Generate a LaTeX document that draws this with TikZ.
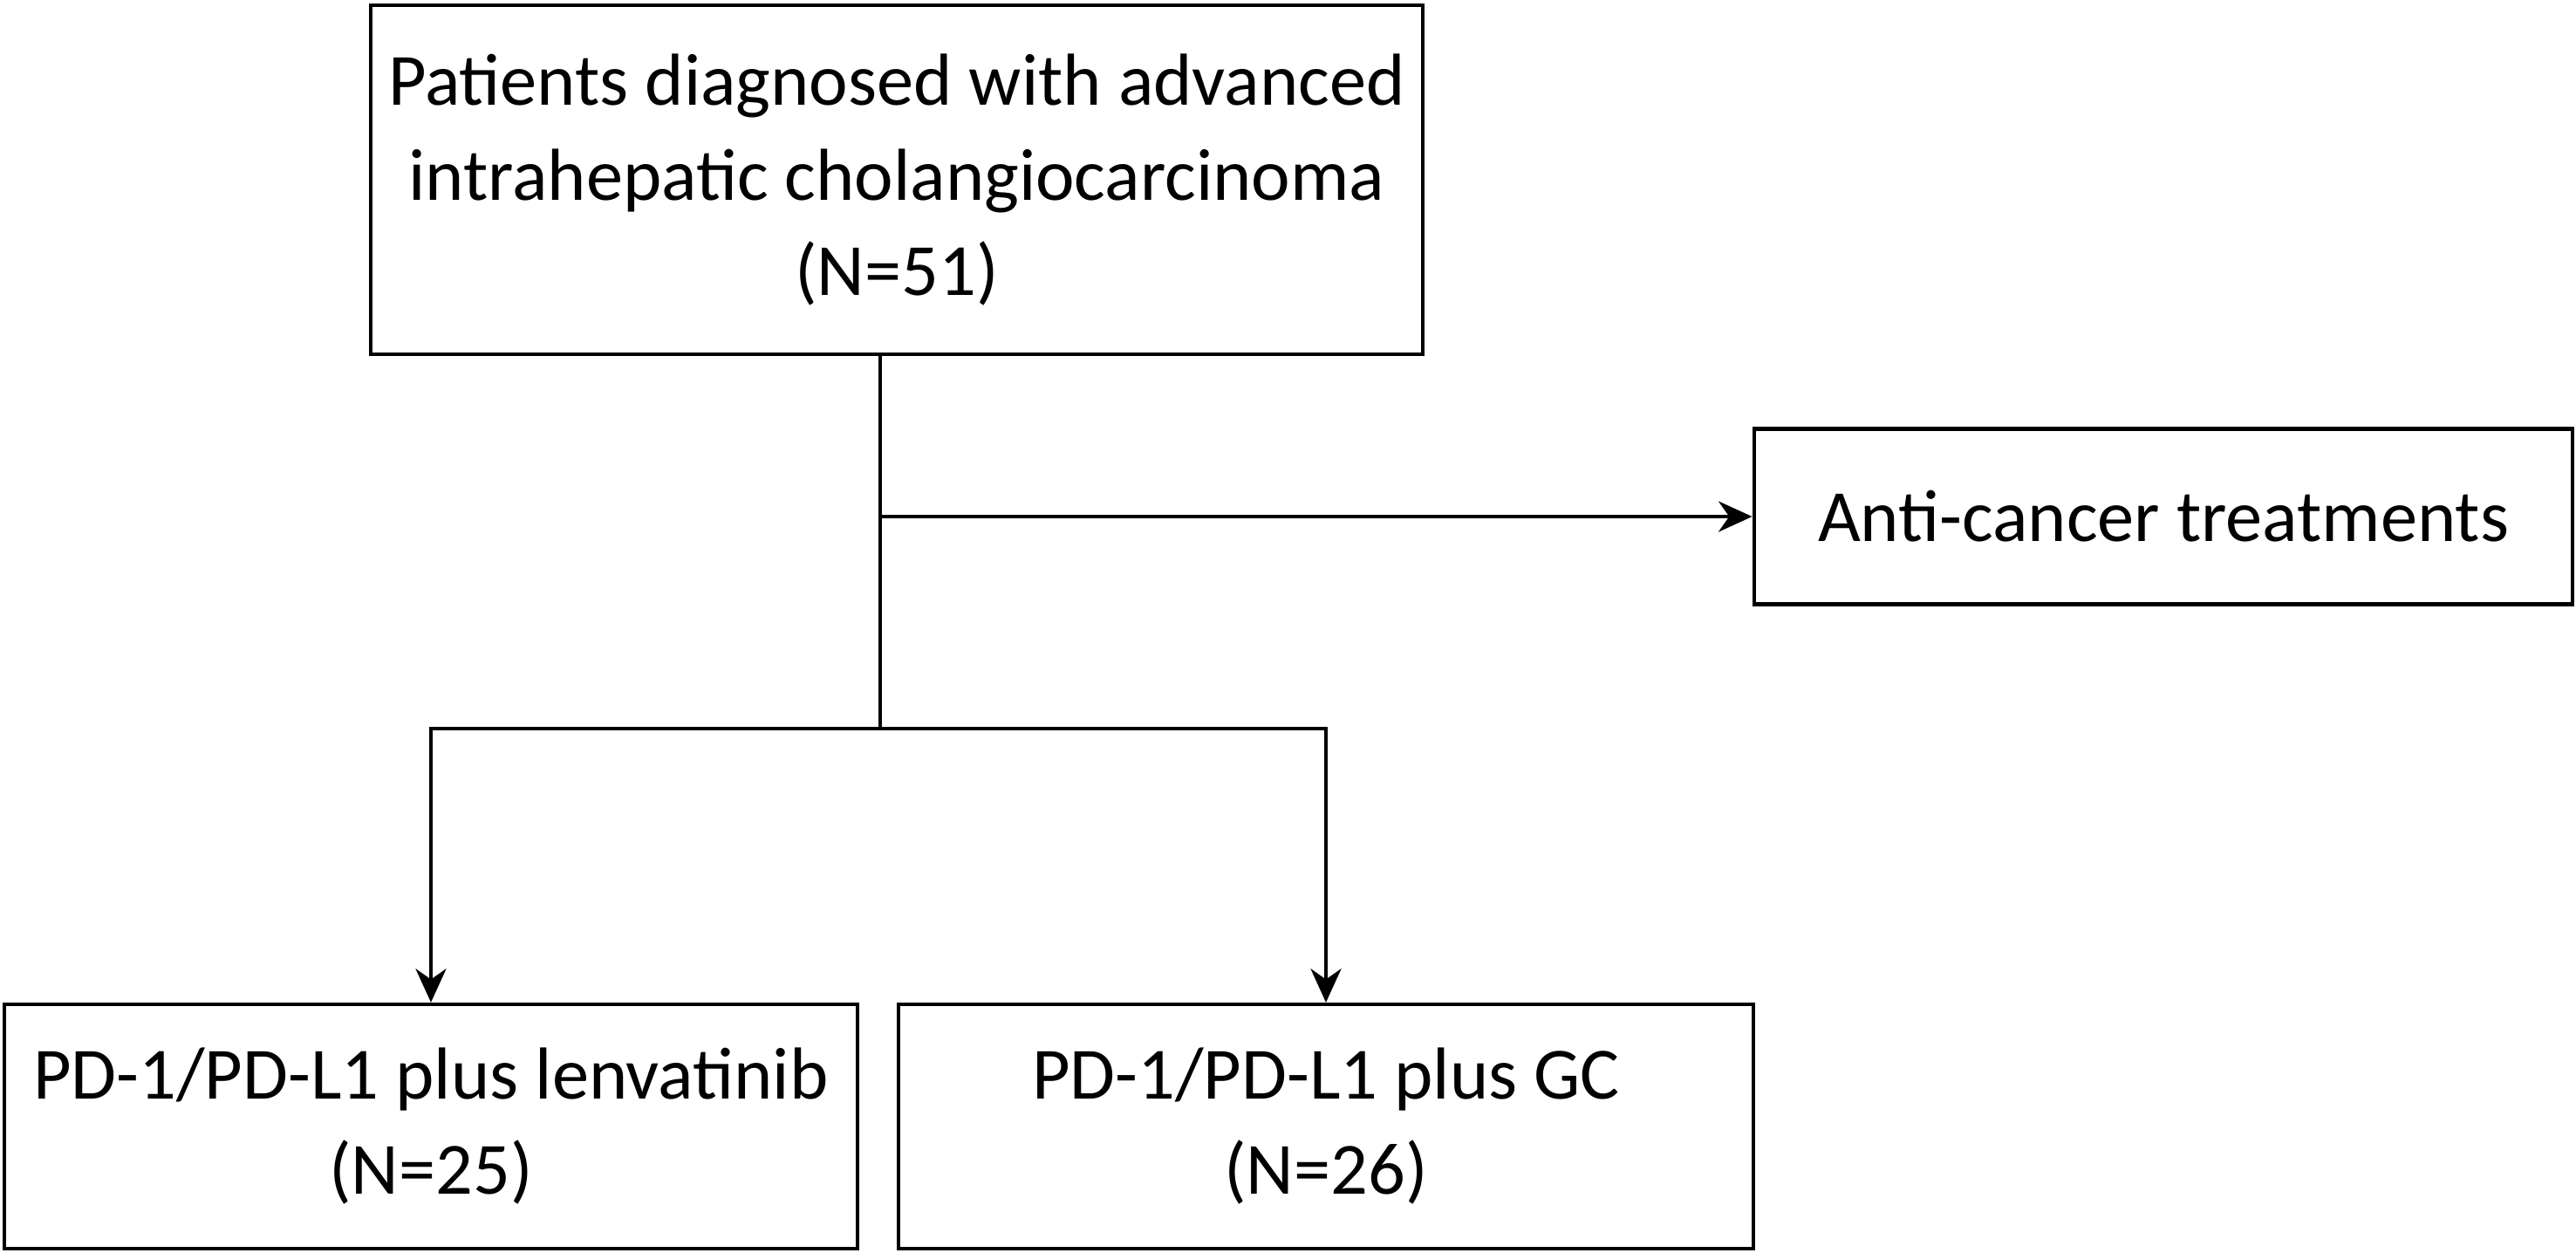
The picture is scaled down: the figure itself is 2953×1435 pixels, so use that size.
\documentclass[tikz,border=0pt]{standalone}
\usepackage{fontspec}
\setmainfont{Carlito}
\usetikzlibrary{arrows.meta}
\tikzset{
  box/.style={draw,line width=1.2pt,align=center,inner sep=0pt,
    font=\fontsize{24}{31}\selectfont},
  wire/.style={line width=0.9pt},
  arr/.style={wire,-{Stealth[length=11pt,width=10pt,inset=3.5pt]}}
}

\begin{document}
\begin{tikzpicture}[x=0.01cm,y=-0.01cm]
    \useasboundingbox (0,0) rectangle (2953,1435);
    % Boxes
    \node[box,minimum width=12.05cm,minimum height=4cm]
      (pat) at (1028,206) {Patients diagnosed with advanced\\ intrahepatic cholangiocarcinoma\\(N=51)};
    \node[box,minimum width=9.38cm,minimum height=2.01cm]
      (anti) at (2480,592) {Anti-cancer treatments};
    \node[box,minimum width=9.77cm,minimum height=2.8cm]
      (lenv) at (494,1291) {PD-1/PD-L1 plus lenvatinib\\(N=25)};
    \node[box,minimum width=9.8cm,minimum height=2.8cm]
      (gc) at (1520,1291) {PD-1/PD-L1 plus GC\\(N=26)};
    % Wires
    \coordinate (split) at (1009,835);
    \draw[wire] (pat.south -| split) -- (split);
    \draw[arr] (anti.west -| split) -- (anti.west);
    \draw[arr] (split) -| (lenv.north);
    \draw[arr] (split) -| (gc.north);
\end{tikzpicture}
\end{document}
